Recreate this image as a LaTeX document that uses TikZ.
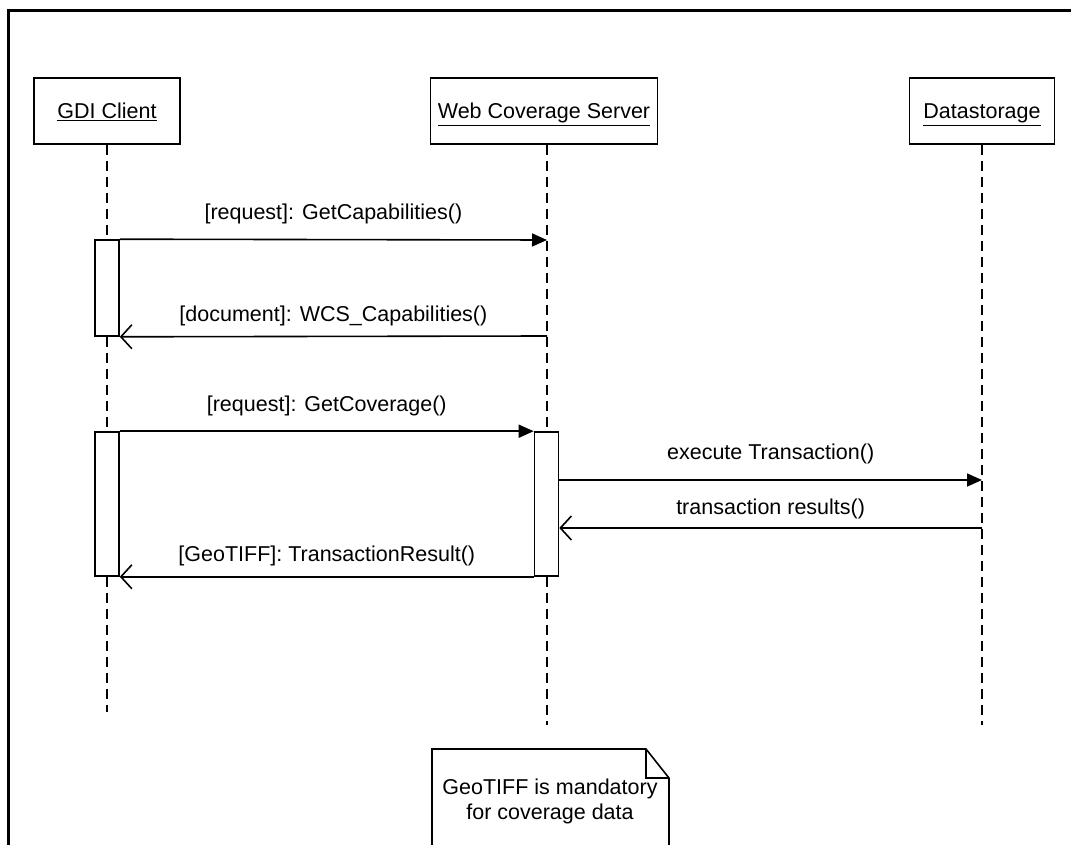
\documentclass[tikz,border=0pt]{standalone}
\usepackage{fontspec}
\setmainfont{Liberation Sans}
\usetikzlibrary{arrows.meta}

\begin{document}
\begin{tikzpicture}[x=1pt,y=-1pt,
    every node/.style={font=\fontsize{21.5}{25}\selectfont},
    actor/.style={draw, line width=1.6pt, minimum height=66pt, inner sep=0pt, text height=22pt, text depth=6pt},
    lifeline/.style={line width=1.6pt, dash pattern=on 10pt off 6pt},
    actbar/.style={draw, line width=1.6pt, fill=white, minimum width=24pt, inner sep=0pt},
    call/.style={line width=1.6pt, -{Triangle[length=15pt,width=13pt]}},
    reply/.style={line width=1.6pt, -{Straight Barb[length=11pt,width=24pt,line width=1.6pt]}}]
    \useasboundingbox (0,0) rectangle (1071,845);
    % frame
    \draw[line width=3pt] (8,850) -- (8,11) -- (1075,11);
    % objects
    \node[actor, minimum width=146pt] (gdi) at (107,111) {\underline{GDI Client}};
    \node[actor, minimum width=227pt] (wcs) at (544,111) {\underline{Web Coverage Server}};
    \node[actor, minimum width=145pt] (data) at (982,111) {\underline{Datastorage}};
    % lifelines
    \coordinate (gdiend) at (107,712);
    \coordinate (wcsend) at (547,725);
    \coordinate (dataend) at (982,725);
    \draw[lifeline] (gdi.south) -- (gdiend);
    \draw[lifeline] (wcsend |- wcs.south) -- (wcsend);
    \draw[lifeline] (data.south) -- (dataend);
    % activations
    \node[actbar, minimum height=96pt] (gdia) at (107,288) {};
    \node[actbar, minimum height=144pt] (gdib) at (107,504) {};
    \node[actbar, minimum height=144pt] (wcsa) at (546.5,504) {};
    % points on the lifelines
    \coordinate (w1) at (547,240);
    \coordinate (w2) at (547,336);
    \coordinate (d1) at (982,480);
    \coordinate (d2) at (982,528);
    % messages
    \draw[call] (gdia.north east) -- (w1)
        node[midway, above=12pt] {[request]: GetCapabilities()};
    \draw[reply] (w2) -- (gdia.south east)
        node[midway, above=6pt] {[document]: WCS\_Capabilities()};
    \draw[call] (gdib.north east) -- (wcsa.north west)
        node[midway, above=11pt] {[request]: GetCoverage()};
    \draw[call] (wcsa.east |- d1) -- (d1)
        node[midway, above=12pt] {execute Transaction()};
    \draw[reply] (d2) -- (wcsa.east |- d2)
        node[midway, above=5pt] {transaction results()};
    \draw[reply] (wcsa.south west) -- (gdib.south east)
        node[midway, above=7pt] {[GeoTIFF]: TransactionResult()};
    % note
    \draw[line width=1.6pt] (432,850) -- (432,749) -- (646,749) -- (669,778) -- (669,850);
    \draw[line width=1.6pt] (646,749) -- (646,778) -- (669,778);
    \node[align=center] (note) at (550,801) {GeoTIFF is mandatory\\for coverage data};
\end{tikzpicture}
\end{document}
